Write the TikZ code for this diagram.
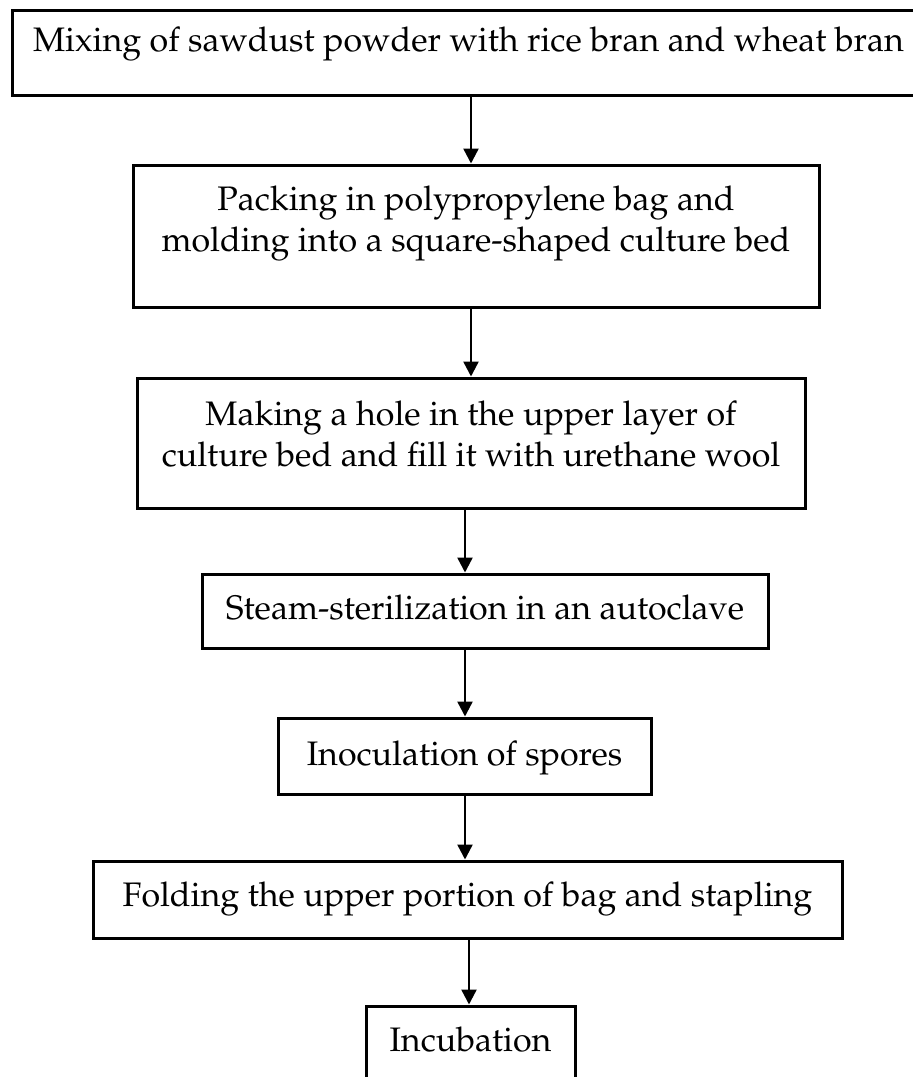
\documentclass[tikz,border=0pt]{standalone}
\usepackage[T1]{fontenc}
\usepackage{mathpazo}
\usetikzlibrary{arrows.meta,positioning}
% text of a step, lifted by #1 inside its box
\newcommand{\steptext}[2]{\raisebox{#1}[0pt][0pt]{\begin{tabular}{@{}c@{}}#2\end{tabular}}}

\begin{document}
\begin{tikzpicture}
[x=0.5pt, y=-0.5pt, line width=1.5pt,
stepbox/.style={draw, rectangle, inner sep=0pt,
font=\fontsize{17}{20.5}\selectfont},
flow/.style={-{Triangle[width=7.5pt,length=7.5pt]}, line width=1.2pt}]
\useasboundingbox (0,0) rectangle (913,1077);

\node (mix) at (468.5,52.5) [stepbox, minimum width=456.5pt, minimum height=42.5pt] {\steptext{0.3pt}{Mixing of sawdust powder with rice bran and wheat bran}};
\node (pack) at (476,236) [stepbox, minimum width=343pt, minimum height=71pt] {\steptext{2.6pt}{Packing in polypropylene bag and\\molding into a square-shaped culture bed}};
\node (hole) at (471,443) [stepbox, minimum width=334pt, minimum height=65pt] {\steptext{-1.4pt}{Making a hole in the upper layer of\\culture bed and fill it with urethane wool}};
\node (steam) at (485,611) [stepbox, minimum width=283pt, minimum height=37pt] {\steptext{-4.6pt}{Steam-sterilization in an autoclave}};
\node (inoc) at (464.5,756) [stepbox, minimum width=186.5pt, minimum height=38pt] {\steptext{-5.1pt}{Inoculation of spores}};
\node (fold) at (467.5,899.5) [stepbox, minimum width=374.5pt, minimum height=38.5pt] {\steptext{-3.5pt}{Folding the upper portion of bag and stapling}};
\node (incub) at (470.5,1048) [stepbox, minimum width=104.5pt, minimum height=42pt] {\steptext{-2pt}{Incubation}};

% arrow columns
\coordinate (c1) at (471,0);
\coordinate (c2) at (465,0);
\coordinate (c3) at (469,0);

\draw[flow] (mix.south -| c1) -- (pack.north -| c1);
\draw[flow] (pack.south -| c1) -- (hole.north -| c1);
\draw[flow] (hole.south -| c2) -- (steam.north -| c2);
\draw[flow] (steam.south -| c2) -- (inoc.north -| c2);
\draw[flow] (inoc.south -| c2) -- (fold.north -| c2);
\draw[flow] (fold.south -| c3) -- (incub.north -| c3);

\end{tikzpicture}
\end{document}
